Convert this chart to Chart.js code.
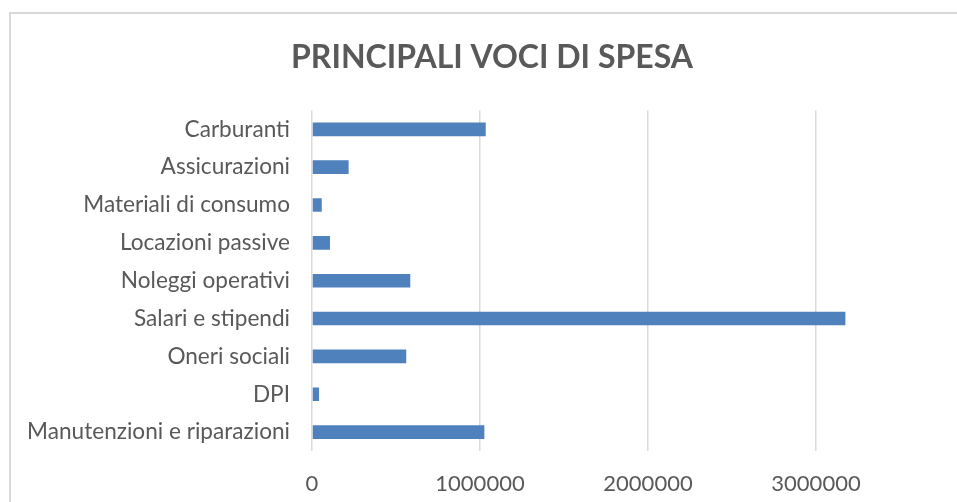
<!DOCTYPE html>
<html>
<head>
<meta charset="utf-8">
<script src="https://cdn.jsdelivr.net/npm/chart.js@4/dist/chart.umd.min.js"></script>
<style>
  html, body { margin: 0; padding: 0; overflow: hidden; background: #fff; }
  #box { position: absolute; left: 9px; top: 12px; width: 1200px; height: 700px; border: 2px solid #d9d9d9; }
  #wrap { position: absolute; left: 0; top: 0; width: 1060px; height: 502px; }
</style>
</head>
<body>
<div id="box"></div>
<div id="wrap"><canvas id="myChart"></canvas></div>
<script>
// voci di spesa, dall'alto verso il basso
var categories = ["Carburanti", "Assicurazioni", "Materiali di consumo", "Locazioni passive", "Noleggi operativi", "Salari e stipendi", "Oneri sociali", "DPI", "Manutenzioni e riparazioni"];
var spesa = [1034000, 218000, 58000, 107000, 585000, 3175000, 561000, 42000, 1026000];
var xTicks = [0, 1000000, 2000000, 3000000];
var xMax = 4000000;

var grey = '#595959';

var ctx = document.getElementById("myChart");
var myChart = new Chart(ctx, {
    type: 'bar',
    data: {
        labels: categories,
        datasets: [{
            label: 'Spesa',
            data: spesa,
            backgroundColor: '#4f81bd',
            borderWidth: 0,
            categoryPercentage: 1,
            barPercentage: 0.36
        }]
    },
    options: {
        indexAxis: 'y',
        responsive: true,
        maintainAspectRatio: false,
        animation: false,
        layout: { padding: { left: 0, right: 76, top: 0, bottom: 0 } },
        plugins: {
            legend: { display: false },
            tooltip: { enabled: false },
            title: {
                display: true,
                text: 'PRINCIPALI VOCI DI SPESA',
                color: grey,
                font: { family: 'Lato', size: 32, weight: 'bold' },
                padding: { top: 38, bottom: 34 }
            }
        },
        scales: {
            x: {
                min: 0,
                max: xMax,
                afterBuildTicks: function (scale) {
                    scale.ticks = xTicks.map(v => ({ value: v }));
                },
                afterFit: function (scale) { scale.height = 51; },
                grid: { color: '#d9d9d9', lineWidth: 1.5, drawTicks: false },
                border: { display: false },
                ticks: {
                    color: grey,
                    padding: 20,
                    maxRotation: 0,
                    font: { family: 'Lato', size: 22 },
                    callback: function (v) { return String(v); }
                }
            },
            y: {
                afterFit: function (scale) { scale.width = 312; },
                grid: { display: false, drawTicks: false },
                border: { display: false },
                ticks: {
                    color: grey,
                    padding: 22,
                    font: { family: 'Lato', size: 22.6 }
                }
            }
        }
    }
});
</script>
</body>
</html>
